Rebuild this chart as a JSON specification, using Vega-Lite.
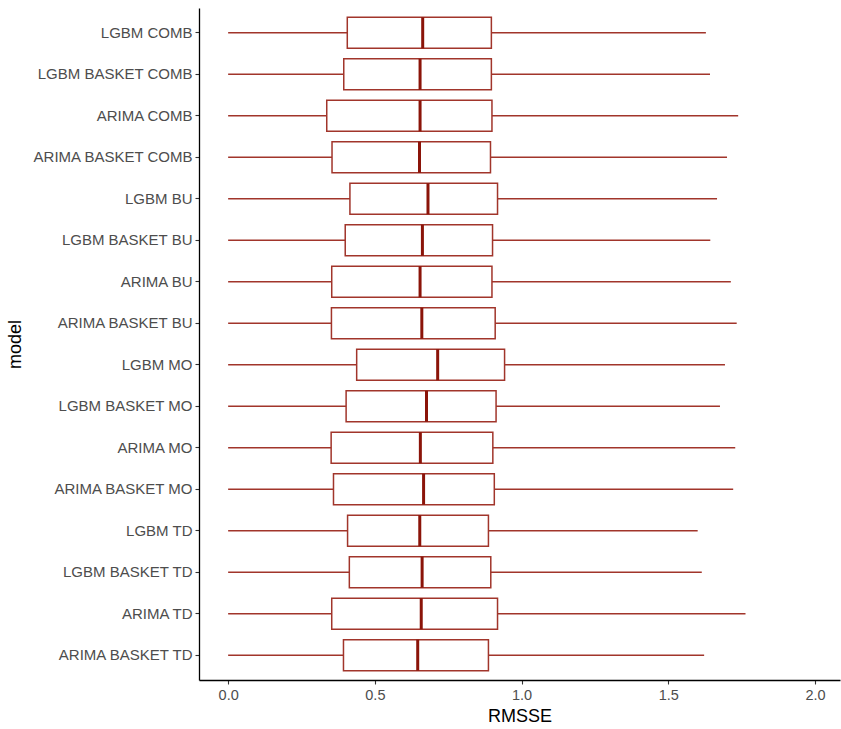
{
  "$schema": "https://vega.github.io/schema/vega-lite/v6.json",
  "width": 641,
  "height": 672,
  "autosize": {"type": "none"},
  "padding": {"left": 199, "top": 8, "right": 1, "bottom": 49},
  "background": "white",
  "config": {
    "view": {"stroke": null},
    "font": "Liberation Sans",
    "axis": {
      "grid": false,
      "domainColor": "#000000",
      "domainWidth": 1.3,
      "tickColor": "#333333",
      "tickWidth": 1.1,
      "tickSize": 4,
      "labelColor": "#4d4d4d",
      "labelFont": "Liberation Sans",
      "labelFontSize": 15,
      "labelPadding": 3,
      "titleFont": "Liberation Sans",
      "titleFontSize": 18,
      "titleFontWeight": "normal",
      "titleColor": "#000000"
    }
  },
  "data": {
    "values": [
      {"model": "LGBM COMB", "lower": 0, "q1": 0.406, "median": 0.663, "q3": 0.897, "upper": 1.628},
      {"model": "LGBM BASKET COMB", "lower": 0, "q1": 0.394, "median": 0.654, "q3": 0.897, "upper": 1.642},
      {"model": "ARIMA COMB", "lower": 0, "q1": 0.336, "median": 0.654, "q3": 0.899, "upper": 1.738},
      {"model": "ARIMA BASKET COMB", "lower": 0, "q1": 0.354, "median": 0.652, "q3": 0.894, "upper": 1.700},
      {"model": "LGBM BU", "lower": 0, "q1": 0.415, "median": 0.681, "q3": 0.918, "upper": 1.666},
      {"model": "LGBM BASKET BU", "lower": 0, "q1": 0.399, "median": 0.662, "q3": 0.901, "upper": 1.643},
      {"model": "ARIMA BU", "lower": 0, "q1": 0.353, "median": 0.654, "q3": 0.899, "upper": 1.713},
      {"model": "ARIMA BASKET BU", "lower": 0, "q1": 0.352, "median": 0.660, "q3": 0.910, "upper": 1.733},
      {"model": "LGBM MO", "lower": 0, "q1": 0.438, "median": 0.714, "q3": 0.942, "upper": 1.693},
      {"model": "LGBM BASKET MO", "lower": 0, "q1": 0.402, "median": 0.676, "q3": 0.913, "upper": 1.676},
      {"model": "ARIMA MO", "lower": 0, "q1": 0.351, "median": 0.655, "q3": 0.902, "upper": 1.728},
      {"model": "ARIMA BASKET MO", "lower": 0, "q1": 0.359, "median": 0.666, "q3": 0.907, "upper": 1.721},
      {"model": "LGBM TD", "lower": 0, "q1": 0.407, "median": 0.653, "q3": 0.887, "upper": 1.600},
      {"model": "LGBM BASKET TD", "lower": 0, "q1": 0.413, "median": 0.661, "q3": 0.895, "upper": 1.614},
      {"model": "ARIMA TD", "lower": 0, "q1": 0.353, "median": 0.658, "q3": 0.918, "upper": 1.763},
      {"model": "ARIMA BASKET TD", "lower": 0, "q1": 0.393, "median": 0.646, "q3": 0.887, "upper": 1.622}
    ]
  },
  "encoding": {
    "y": {
      "field": "model",
      "type": "nominal",
      "sort": null,
      "scale": {"paddingInner": 0.253, "paddingOuter": 0.225},
      "axis": {"title": "model", "titlePadding": 7, "labelLimit": 300}
    }
  },
  "layer": [
    {
      "mark": {"type": "rule", "color": "#a1352b", "strokeWidth": 1.5, "opacity": 1},
      "encoding": {
        "x": {
          "field": "lower",
          "type": "quantitative",
          "scale": {"domain": [-0.0993, 2.085], "nice": false, "zero": false},
          "axis": {"title": "RMSSE", "values": [0, 0.5, 1, 1.5, 2], "format": ".1f", "titlePadding": 6, "labelPadding": 4, "labelFontSize": 14.5}
        },
        "x2": {"field": "upper"}
      }
    },
    {
      "mark": {"type": "bar", "fill": "white", "stroke": "#a1352b", "strokeWidth": 1.5, "opacity": 1},
      "encoding": {
        "x": {"field": "q1", "type": "quantitative"},
        "x2": {"field": "q3"}
      }
    },
    {
      "mark": {"type": "tick", "color": "#8b1409", "thickness": 3, "size": 31, "opacity": 1},
      "encoding": {
        "x": {"field": "median", "type": "quantitative"}
      }
    }
  ]
}
